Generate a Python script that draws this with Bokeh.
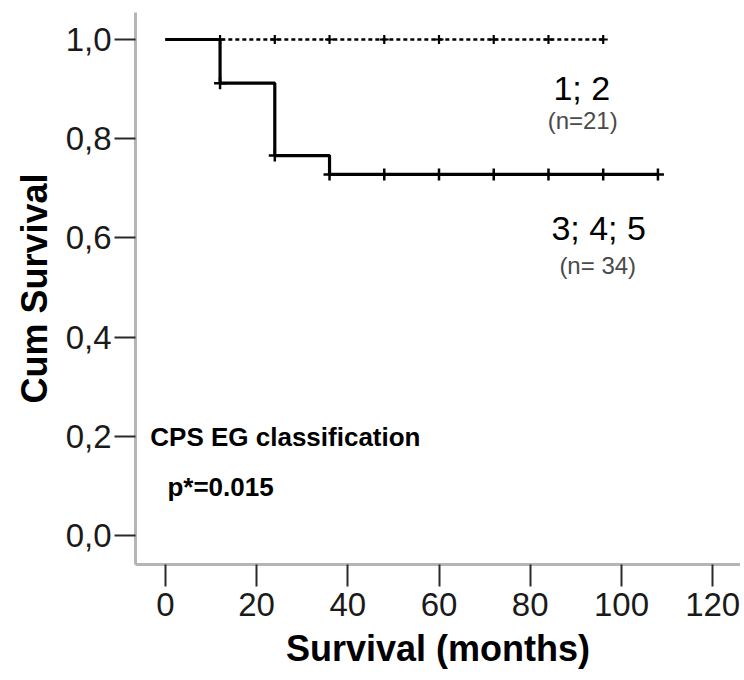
from bokeh.plotting import figure
from bokeh.models import Range1d, FixedTicker, ColumnDataSource
from bokeh.embed import file_html
from bokeh.resources import INLINE
from bokeh.core.properties import value

# ---------------- data ----------------
# Group "1; 2" (n=21): no events
grp12_time = [0, 96]
grp12_surv = [1.0, 1.0]
grp12_cens_time = [12, 24, 36, 48, 60, 72, 84, 96]
grp12_cens_surv = [1.0, 1.0, 1.0, 1.0, 1.0, 1.0, 1.0, 1.0]

# Group "3; 4; 5" (n=34): step curve
grp345_time = [0, 12, 24, 36, 108]
grp345_surv = [1.0, 0.912, 0.766, 0.728, 0.728]
grp345_cens_time = [12, 24, 36, 48, 60, 72, 84, 96, 108]
grp345_cens_surv = [0.912, 0.766, 0.728, 0.728, 0.728, 0.728, 0.728, 0.728, 0.728]

x_ticks = [0, 20, 40, 60, 80, 100, 120]
y_ticks = [0.0, 0.2, 0.4, 0.6, 0.8, 1.0]
y_tick_labels = ["0,0", "0,2", "0,4", "0,6", "0,8", "1,0"]

group_labels = ["1; 2", "3; 4; 5"]
group_n_labels = ["(n=21)", "(n= 34)"]
note_labels = ["CPS EG classification", "p*=0.015"]

# annotation anchor positions (data units)
group_label_x = [91.3, 95.0]
group_label_y = [0.903, 0.619]
group_n_x = [91.5, 94.8]
group_n_y = [0.837, 0.544]
note_x = [-3.3, 0.45]
note_y = [0.198, 0.097]

FONT = "Liberation Sans"

p = figure(
    frame_width=605, frame_height=552,
    min_border_left=135, min_border_right=0, min_border_top=12, min_border_bottom=116,
    x_range=Range1d(-6.54, 126.1), y_range=Range1d(-0.0585, 1.0544),
    output_backend="svg", toolbar_location=None,
)
p.outline_line_color = None
p.xgrid.visible = False
p.ygrid.visible = False
p.background_fill_color = "white"
p.border_fill_color = "white"

# curves
p.line(grp12_time, grp12_surv, line_color="black", line_width=2.5, line_dash="4 3")
p.scatter(grp12_cens_time, grp12_cens_surv, marker="cross", size=9,
          line_color="black", line_width=2.2)
p.step(grp345_time, grp345_surv, mode="after", line_color="black", line_width=3.2)
p.scatter(grp345_cens_time, grp345_cens_surv, marker="cross", size=12,
          line_color="black", line_width=2.5)

# annotations
src_g = ColumnDataSource(dict(x=group_label_x, y=group_label_y, t=group_labels))
p.text("x", "y", text="t", source=src_g, text_font=value(FONT), text_font_size="34px",
       text_align="center", text_baseline="alphabetic", text_color="black")
src_n = ColumnDataSource(dict(x=group_n_x, y=group_n_y, t=group_n_labels))
p.text("x", "y", text="t", source=src_n, text_font=value(FONT), text_font_size="24px",
       text_align="center", text_baseline="alphabetic", text_color="#4a4a4a")
src_note = ColumnDataSource(dict(x=note_x, y=note_y, t=note_labels))
p.text("x", "y", text="t", source=src_note, text_font=value(FONT), text_font_size="26px",
       text_font_style="bold", text_align="left", text_baseline="alphabetic",
       text_color="black")

# axes
p.xaxis.ticker = FixedTicker(ticks=x_ticks)
p.yaxis.ticker = FixedTicker(ticks=y_ticks)
p.yaxis.major_label_overrides = dict(zip(y_ticks, y_tick_labels))

for ax in (p.xaxis, p.yaxis):
    ax.axis_line_color = "#b5b5b5"
    ax.axis_line_width = 3
    ax.major_tick_line_color = "#2a2a2a"
    ax.major_tick_line_width = 2
    ax.major_tick_in = 0
    ax.minor_tick_line_color = None
    ax.major_label_text_font = FONT
    ax.major_label_text_font_size = "33px"
    ax.major_label_text_color = "#1a1a1a"
    ax.axis_label_text_font = FONT
    ax.axis_label_text_font_size = "36px"
    ax.axis_label_text_font_style = "bold"
    ax.axis_label_text_color = "black"

p.xaxis.major_tick_out = 22
p.xaxis.major_label_standoff = 6
p.xaxis.axis_label = "Survival (months)"
p.xaxis.axis_label_standoff = 9

p.yaxis.major_tick_out = 21
p.yaxis.major_label_standoff = 3
p.yaxis.axis_label = "Cum Survival"
p.yaxis.axis_label_standoff = 8

open("out.html", "w").write(file_html(p, INLINE))
